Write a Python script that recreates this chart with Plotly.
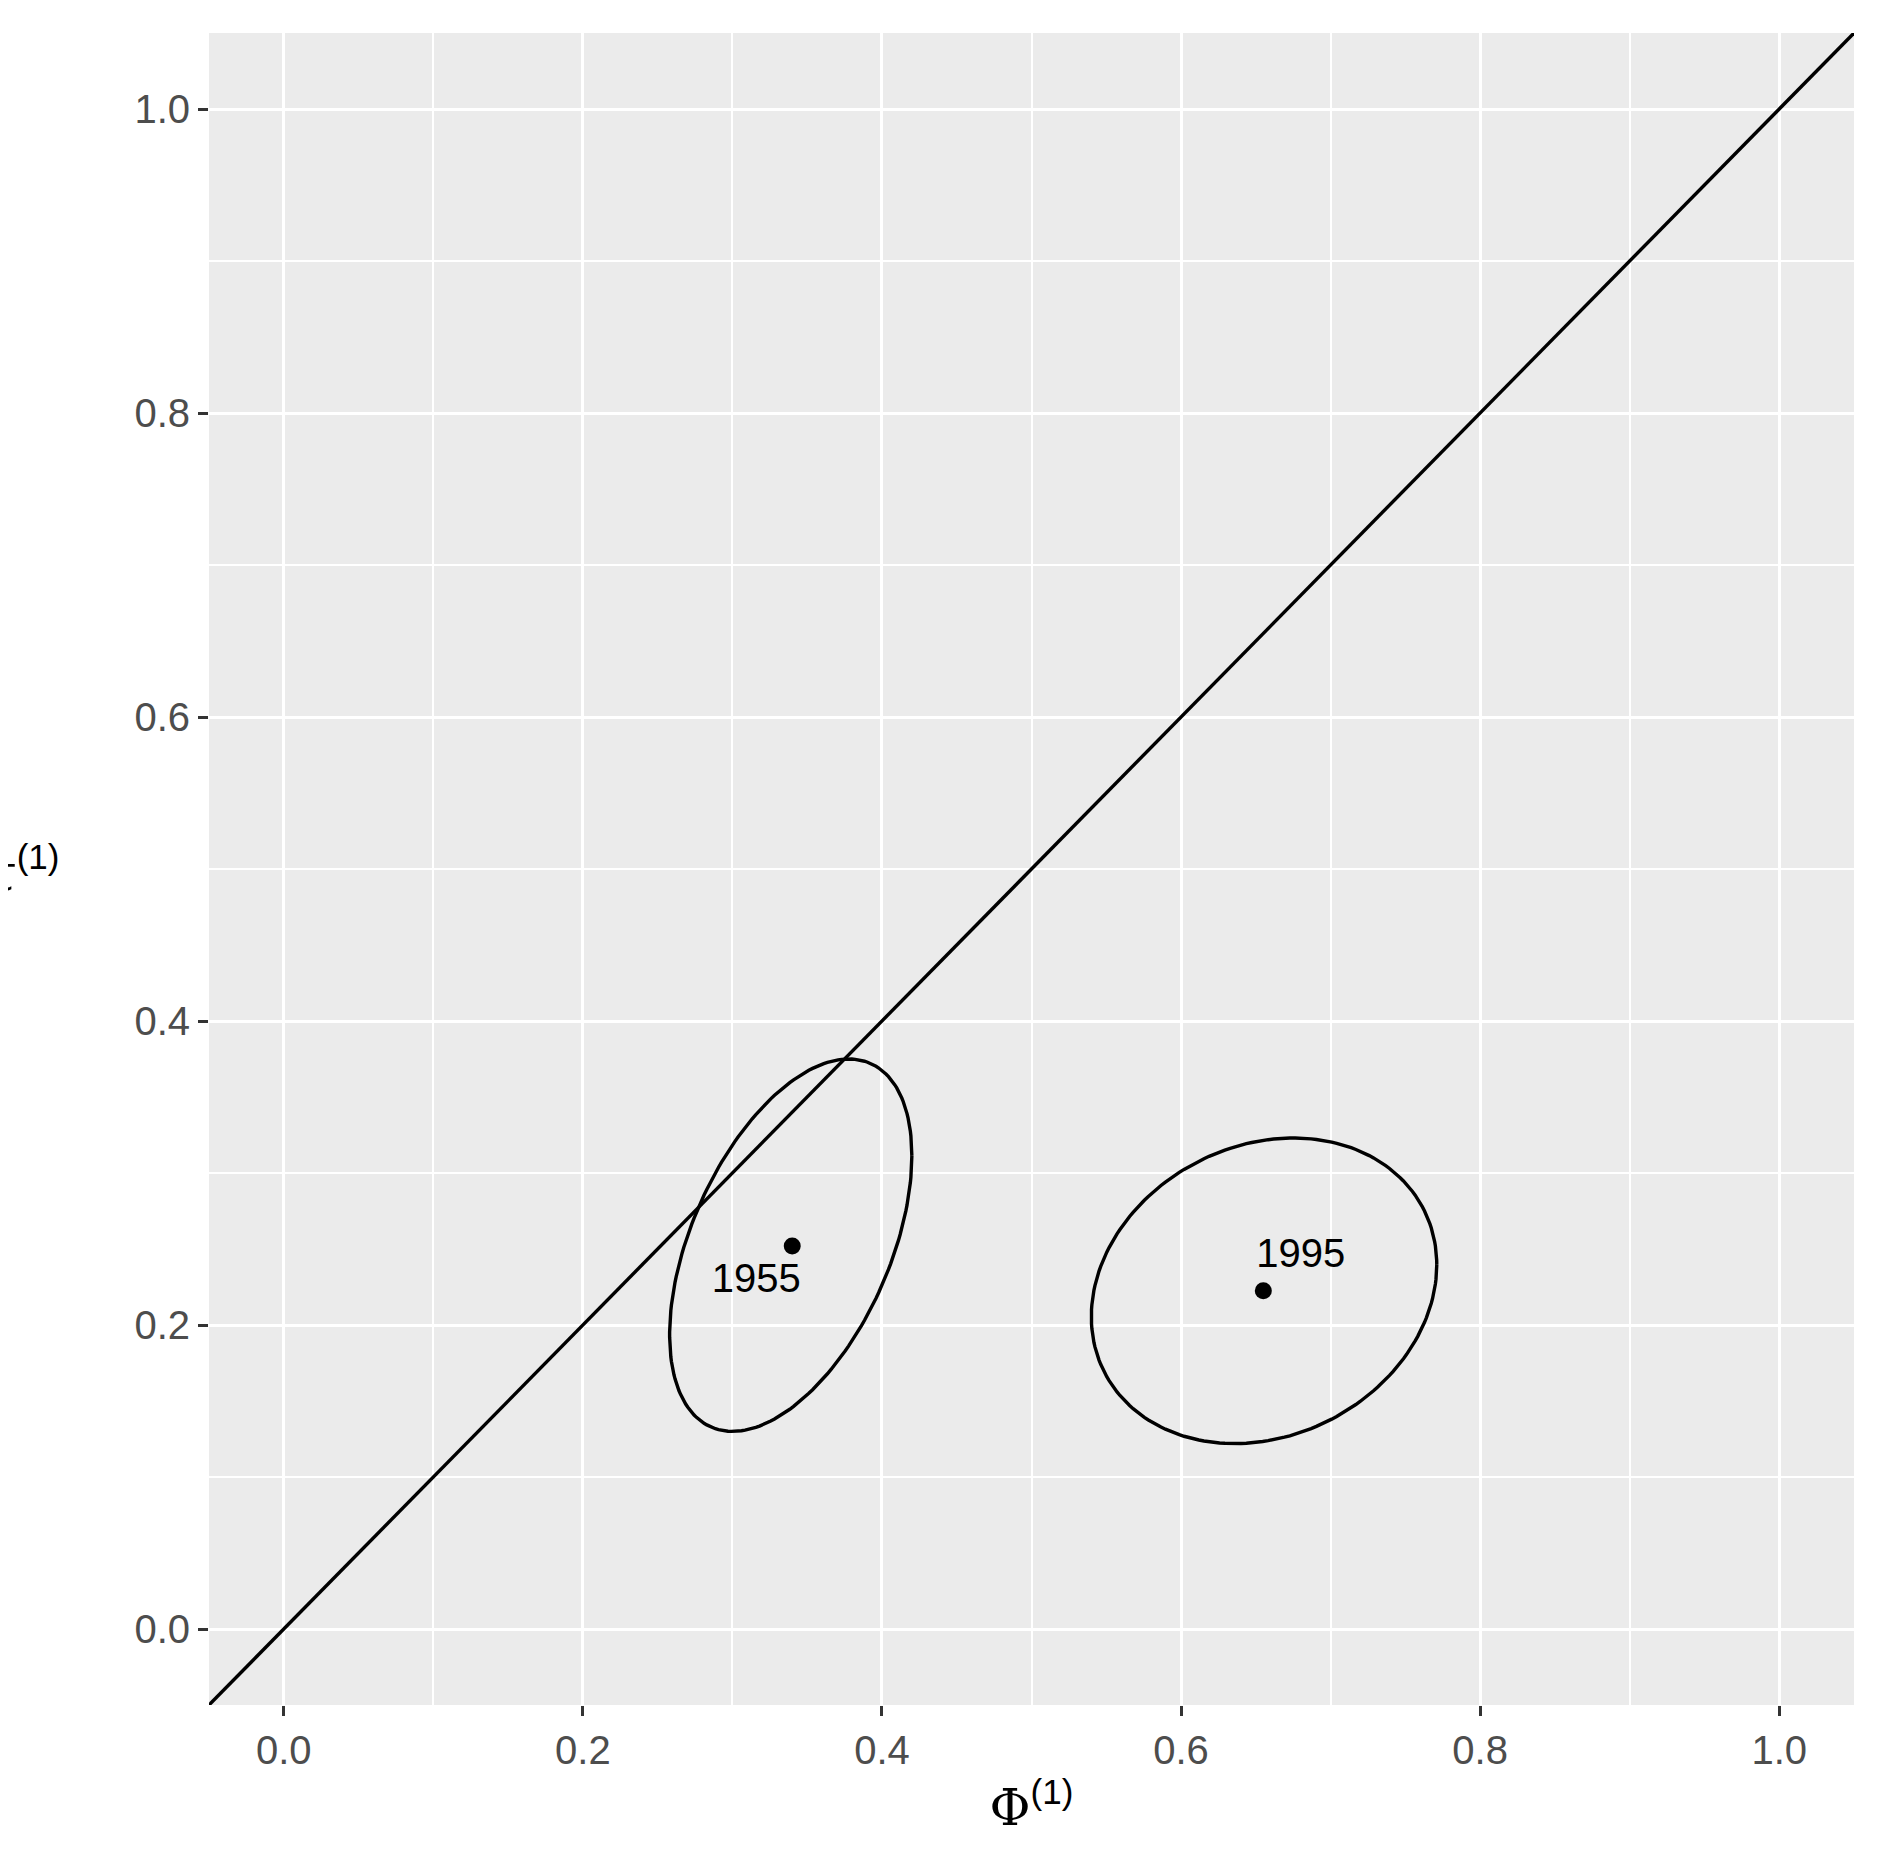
import numpy as np
import plotly.graph_objects as go

years = ["1955", "1995"]
phi = [0.340, 0.655]
tau = [0.252, 0.2225]
# ellipse parameters: centre x, centre y, x half-width, y half-height, phase shift
ell_cx = [0.339, 0.6555]
ell_cy = [0.2525, 0.2225]
ell_ax = [0.081, 0.1155]
ell_ay = [0.1225, 0.1005]
ell_delta = [1.07, 1.40]
label_x = [0.316, 0.680]
label_y = [0.228, 0.245]
diag = [-0.05, 1.05]
ticks = [0.0, 0.2, 0.4, 0.6, 0.8, 1.0]

fig = go.Figure()
fig.add_trace(go.Scatter(x=diag, y=diag, mode="lines", line=dict(color="black", width=3.4)))
t = np.linspace(0, 2 * np.pi, 200)
for i in range(2):
    fig.add_trace(go.Scatter(x=ell_cx[i] + ell_ax[i] * np.cos(t),
                             y=ell_cy[i] + ell_ay[i] * np.cos(t + ell_delta[i]),
                             mode="lines", line=dict(color="black", width=3.4)))
fig.add_trace(go.Scatter(x=phi, y=tau, mode="markers", marker=dict(color="black", size=17)))
fig.add_trace(go.Scatter(x=label_x, y=label_y, mode="text", text=years,
                         textfont=dict(size=40, color="black", family="Liberation Sans")))

axis = dict(range=[-0.05, 1.05], tickvals=ticks, ticktext=[f"{v:.1f}" for v in ticks],
            showgrid=True, gridcolor="white", gridwidth=3,
            minor=dict(dtick=0.1, tick0=0, showgrid=True, gridcolor="white", gridwidth=1.5),
            ticks="outside", ticklen=10, tickwidth=2.5, tickcolor="#333333",
            tickfont=dict(size=40, color="#4d4d4d", family="Liberation Sans"),
            zeroline=False, showline=False)
fig.update_layout(
    width=1888, height=1872, showlegend=False,
    plot_bgcolor="#ebebeb", paper_bgcolor="white",
    margin=dict(l=201, r=42, t=25, b=175),
    xaxis=dict(axis, title=dict(text="<span style='font-family:DejaVu Serif'>Φ</span><sup>(1)</sup>",
                                font=dict(size=50, color="black", family="Liberation Sans"), standoff=18)),
    yaxis=dict(axis),
)
fig.add_annotation(text="<span style='font-family:DejaVu Serif'>τ</span><sup>(1)</sup>",
                   xref="paper", yref="paper", x=-0.09, y=0.5, xanchor="right", yanchor="middle",
                   showarrow=False, font=dict(size=50, color="black", family="Liberation Sans"))
fig.write_html("out.html")
